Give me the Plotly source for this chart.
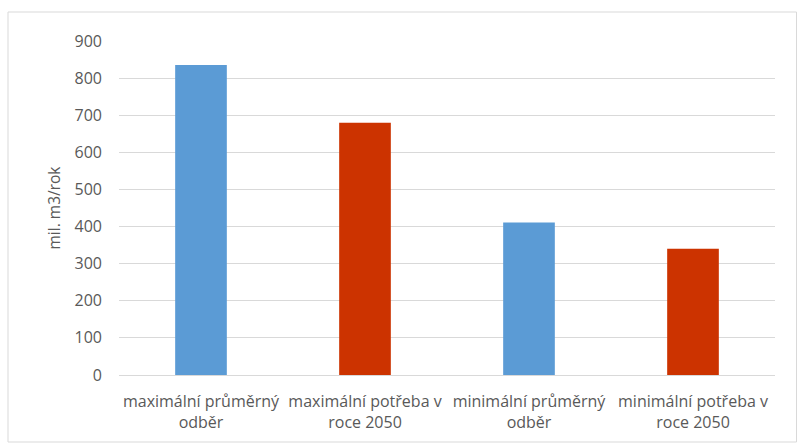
import plotly.graph_objects as go

categories = ["maximální průměrný<br>odběr", "maximální potřeba v<br>roce 2050",
              "minimální průměrný<br>odběr", "minimální potřeba v<br>roce 2050"]
values = [835, 680, 411, 340]
colors = ["#5B9BD5", "#CC3300", "#5B9BD5", "#CC3300"]
y_ticks = [0, 100, 200, 300, 400, 500, 600, 700, 800, 900]

W, H = 797, 443
L, R, T, B = 119, 22, 41, 68

fig = go.Figure(go.Bar(x=categories, y=values, marker=dict(color=colors, line=dict(width=0)),
                       width=0.315, hoverinfo="skip"))

fig.update_layout(
    width=W, height=H,
    margin=dict(l=L, r=R, t=T, b=B),
    paper_bgcolor="white", plot_bgcolor="white",
    font=dict(family="Open Sans", size=16, color="#595959"),
    showlegend=False,
    yaxis=dict(range=[0, 900], tickvals=y_ticks, showgrid=True, gridcolor="#D9D9D9", gridwidth=1,
               zeroline=False, showline=False, ticks="", ticklabelstandoff=16, automargin=False,
               tickfont=dict(size=16, color="#595959"),
               title=dict(text="mil. m3/rok", font=dict(size=15.5, color="#595959"), standoff=10)),
    xaxis=dict(showline=True, linecolor="#D9D9D9", linewidth=1, ticks="", automargin=False,
               tickfont=dict(size=16, color="#595959"), ticklabelstandoff=12),
)

pw, ph = W - L - R, H - T - B
def px(x): return (x - L) / pw
def py(y): return (H - B - y) / ph
fig.add_shape(type="rect", xref="paper", yref="paper",
              x0=px(8), x1=px(796.5), y0=py(442), y1=py(12),
              line=dict(color="#D9D9D9", width=1), fillcolor="rgba(0,0,0,0)", layer="below")

fig.write_html("out.html")
